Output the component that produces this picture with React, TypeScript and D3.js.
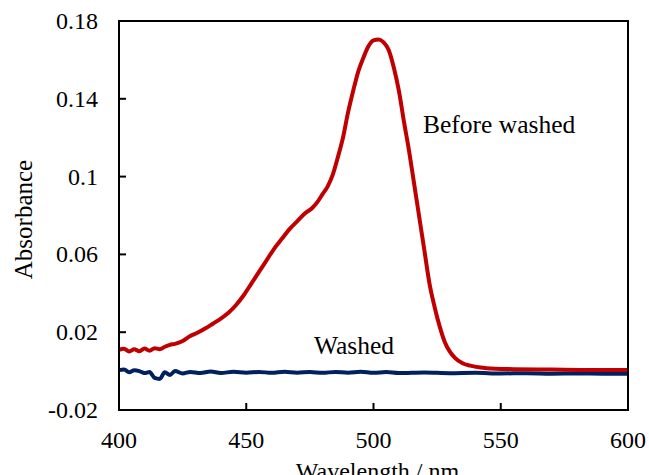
import React from "react";
import * as d3 from "d3";

const beforeWl = [400, 402, 404, 406, 408, 410, 412, 414, 416, 418, 420, 422, 425, 428, 431, 434, 437, 440, 443, 446, 449, 452, 455, 458, 461, 464, 467, 470, 473, 476, 478, 480, 482, 484, 486, 488, 490, 492, 494, 496, 498, 500, 502, 504, 506, 508, 510, 512, 514, 516, 518, 520, 522, 524, 526, 528, 530, 532, 535, 538, 542, 548, 555, 570, 585, 600];
const beforeAbs = [0.011, 0.0115, 0.0101, 0.0112, 0.0102, 0.0116, 0.0105, 0.0118, 0.0112, 0.0125, 0.0135, 0.014, 0.0155, 0.018, 0.0198, 0.022, 0.0245, 0.027, 0.030, 0.034, 0.039, 0.045, 0.051, 0.057, 0.063, 0.068, 0.073, 0.077, 0.081, 0.084, 0.087, 0.091, 0.095, 0.101, 0.11, 0.12, 0.133, 0.144, 0.154, 0.161, 0.167, 0.170, 0.1705, 0.169, 0.165, 0.156, 0.144, 0.128, 0.113, 0.096, 0.079, 0.062, 0.045, 0.033, 0.023, 0.015, 0.010, 0.0068, 0.004, 0.0028, 0.0018, 0.0012, 0.001, 0.0008, 0.0006, 0.0006];

const washedWl = [400, 402, 404, 406, 408, 410, 412, 414, 416, 418, 420, 422, 425, 428, 432, 436, 440, 445, 450, 455, 460, 465, 470, 475, 480, 485, 490, 495, 500, 505, 510, 520, 530, 540, 550, 560, 570, 580, 590, 600];
const washedAbs = [0.0005, 0.0008, -0.0006, 0.0004, 0.0, -0.001, -0.0005, -0.0035, -0.004, -0.0006, -0.002, 0.0, -0.0012, -0.0004, -0.001, -0.0002, -0.001, -0.0003, -0.0008, -0.0004, -0.0009, -0.0003, -0.0008, -0.0005, -0.0009, -0.0004, -0.0008, -0.0003, -0.0009, -0.0005, -0.001, -0.0007, -0.0011, -0.0009, -0.0012, -0.0011, -0.0013, -0.0012, -0.0013, -0.0013];

const xTicks = [400, 450, 500, 550, 600];
const yTicks = [-0.02, 0.02, 0.06, 0.1, 0.14, 0.18];
const yTickLabels = ["-0.02", "0.02", "0.06", "0.1", "0.14", "0.18"];

const W = 649, H = 475;
const L = 119, R = 628, T = 21, B = 410;
const font = "'Liberation Serif', 'Times New Roman', serif";

export default function App() {
  const x = d3.scaleLinear().domain([400, 600]).range([L, R]);
  const y = d3.scaleLinear().domain([-0.02, 0.18]).range([B, T]);
  const line = d3.line<[number, number]>().x(d => x(d[0])).y(d => y(d[1])).curve(d3.curveMonotoneX);
  const before = beforeWl.map((w, i) => [w, beforeAbs[i]] as [number, number]);
  const washed = washedWl.map((w, i) => [w, washedAbs[i]] as [number, number]);
  const tickLen = 7;
  return (
    <svg width={W} height={H} style={{ position: "absolute", left: 0, top: 0, background: "#fff" }} fontFamily={font}>
      <rect x={0} y={0} width={W} height={H} fill="#fff" />
      <path d={line(washed) || ""} fill="none" stroke="#002060" strokeWidth={4} strokeLinejoin="round" />
      <path d={line(before) || ""} fill="none" stroke="#C00000" strokeWidth={4} strokeLinejoin="round" />
      <rect x={L} y={T} width={R - L} height={B - T} fill="none" stroke="#000" strokeWidth={2} />
      {xTicks.map(t => (
        <g key={"x" + t}>
          {t > 400 && t < 600 && <line x1={x(t)} x2={x(t)} y1={B} y2={B - tickLen} stroke="#000" strokeWidth={2} />}
          <text x={x(t)} y={448} textAnchor="middle" fontSize={24} fill="#000">{t}</text>
        </g>
      ))}
      {yTicks.map((t, i) => (
        <g key={"y" + i}>
          {i > 0 && i < yTicks.length - 1 && <line x1={L} x2={L + tickLen} y1={y(t)} y2={y(t)} stroke="#000" strokeWidth={2} />}
          <text x={98} y={y(t) + 8} textAnchor="end" fontSize={24} fill="#000">{yTickLabels[i]}</text>
        </g>
      ))}
      <text transform={`translate(32, ${(T + B) / 2 + 4}) rotate(-90)`} textAnchor="middle" fontSize={25} fill="#000">Absorbance</text>
      <text x={(L + R) / 2 + 4} y={479} textAnchor="middle" fontSize={24} fill="#000">Wavelength / nm</text>
      <text x={423} y={133} fontSize={25.5} fill="#000">Before washed</text>
      <text x={314} y={354} fontSize={25.5} fill="#000">Washed</text>
    </svg>
  );
}
